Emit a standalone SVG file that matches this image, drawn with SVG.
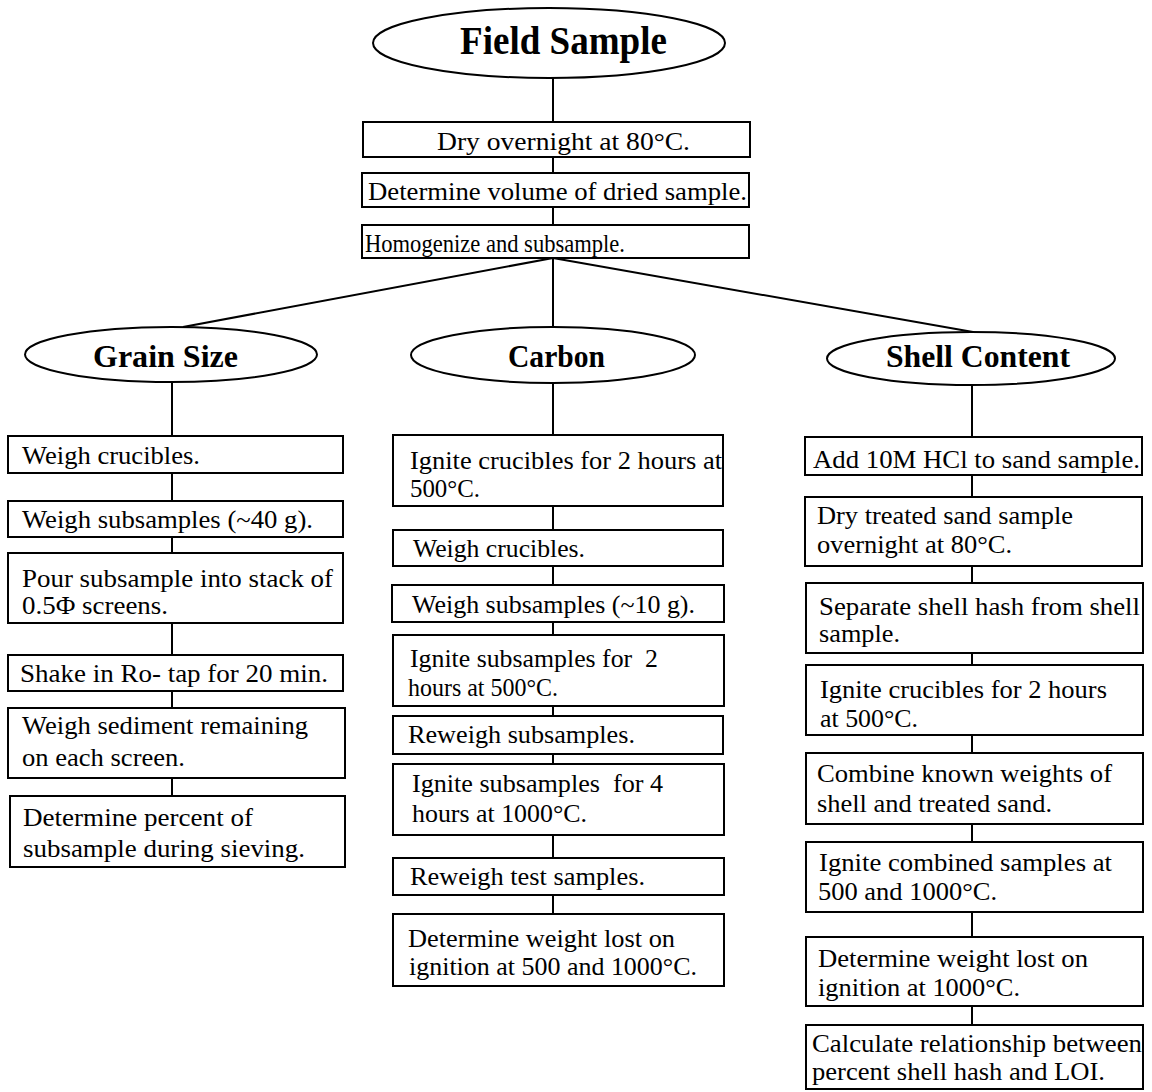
<svg xmlns="http://www.w3.org/2000/svg" width="1152" height="1092" viewBox="0 0 1152 1092">
<style>
.bg{fill:#fff}
.box{fill:#fff;stroke:#000;stroke-width:2}
.ell{fill:#fff;stroke:#000;stroke-width:2}
.c{stroke:#000;stroke-width:2;fill:none}
.t{font-family:"Liberation Serif","Times New Roman",serif;font-size:26px;fill:#000}
.h{font-family:"Liberation Serif","Times New Roman",serif;font-weight:bold;fill:#000}
</style>
<rect class="bg" x="0" y="0" width="1152" height="1092"/>
<g id="connectors">
<line class="c" x1="553" y1="78" x2="553" y2="122"/>
<line class="c" x1="553" y1="157" x2="553" y2="173"/>
<line class="c" x1="553" y1="207" x2="553" y2="225"/>
<line class="c" x1="553" y1="258" x2="183" y2="327"/>
<line class="c" x1="553" y1="258" x2="553" y2="327"/>
<line class="c" x1="553" y1="258" x2="973" y2="332"/>
<line class="c" x1="172" y1="382" x2="172" y2="436"/>
<line class="c" x1="172" y1="473" x2="172" y2="501"/>
<line class="c" x1="172" y1="537" x2="172" y2="553"/>
<line class="c" x1="172" y1="623" x2="172" y2="655"/>
<line class="c" x1="172" y1="691" x2="172" y2="708"/>
<line class="c" x1="172" y1="778" x2="172" y2="796"/>
<line class="c" x1="553" y1="383" x2="553" y2="435"/>
<line class="c" x1="553" y1="506" x2="553" y2="530"/>
<line class="c" x1="553" y1="566" x2="553" y2="585"/>
<line class="c" x1="553" y1="622" x2="553" y2="635"/>
<line class="c" x1="553" y1="706" x2="553" y2="716"/>
<line class="c" x1="553" y1="754" x2="553" y2="764"/>
<line class="c" x1="553" y1="835" x2="553" y2="858"/>
<line class="c" x1="553" y1="895" x2="553" y2="914"/>
<line class="c" x1="972" y1="385" x2="972" y2="437"/>
<line class="c" x1="972" y1="475" x2="972" y2="497"/>
<line class="c" x1="972" y1="566" x2="972" y2="583"/>
<line class="c" x1="972" y1="653" x2="972" y2="665"/>
<line class="c" x1="972" y1="735" x2="972" y2="753"/>
<line class="c" x1="972" y1="824" x2="972" y2="842"/>
<line class="c" x1="972" y1="912" x2="972" y2="937"/>
<line class="c" x1="972" y1="1006" x2="972" y2="1025"/>
</g>

<g id="field-sample"><ellipse class="ell" cx="549" cy="43" rx="176" ry="35"/><text class="h" x="460" y="54" font-size="39" textLength="207" lengthAdjust="spacingAndGlyphs">Field Sample</text></g>
<g id="dry"><rect class="box" x="363" y="122" width="387" height="35"/><text class="t" x="437" y="150" textLength="253" lengthAdjust="spacingAndGlyphs">Dry overnight at 80°C.</text></g>
<g id="volume"><rect class="box" x="362" y="173" width="387" height="34"/><text class="t" x="368" y="200" textLength="379" lengthAdjust="spacingAndGlyphs">Determine volume of dried sample.</text></g>
<g id="homogenize"><rect class="box" x="362" y="225" width="387" height="33"/><text class="t" x="365" y="252" textLength="260" lengthAdjust="spacingAndGlyphs">Homogenize and subsample.</text></g>

<g id="grain-size"><ellipse class="ell" cx="171" cy="354.5" rx="146" ry="27.5"/><text class="h" x="93" y="367" font-size="31" textLength="145" lengthAdjust="spacingAndGlyphs">Grain Size</text></g>
<g id="carbon"><ellipse class="ell" cx="553" cy="355" rx="142" ry="28"/><text class="h" x="508" y="367" font-size="31" textLength="97" lengthAdjust="spacingAndGlyphs">Carbon</text></g>
<g id="shell-content"><ellipse class="ell" cx="971" cy="358.5" rx="144" ry="26.5"/><text class="h" x="886" y="367" font-size="31" textLength="184" lengthAdjust="spacingAndGlyphs">Shell Content</text></g>

<g id="g1"><rect class="box" x="8" y="436" width="335" height="37"/><text class="t" x="22" y="464" textLength="178" lengthAdjust="spacingAndGlyphs">Weigh crucibles.</text></g>
<g id="g2"><rect class="box" x="8" y="501" width="335" height="36"/><text class="t" x="22" y="528" textLength="291" lengthAdjust="spacingAndGlyphs">Weigh subsamples (~40 g).</text></g>
<g id="g3"><rect class="box" x="8" y="553" width="335" height="70"/><text class="t" x="22" y="587" textLength="311" lengthAdjust="spacingAndGlyphs">Pour subsample into stack of</text><text class="t" x="22" y="614" textLength="146" lengthAdjust="spacingAndGlyphs">0.5Φ screens.</text></g>
<g id="g4"><rect class="box" x="8" y="655" width="335" height="36"/><text class="t" x="20" y="682" textLength="308" lengthAdjust="spacingAndGlyphs">Shake in Ro- tap for 20 min.</text></g>
<g id="g5"><rect class="box" x="8" y="708" width="337" height="70"/><text class="t" x="22" y="734" textLength="286" lengthAdjust="spacingAndGlyphs">Weigh sediment remaining</text><text class="t" x="22" y="766" textLength="163" lengthAdjust="spacingAndGlyphs">on each screen.</text></g>
<g id="g6"><rect class="box" x="10" y="796" width="335" height="71"/><text class="t" x="23" y="826" textLength="230" lengthAdjust="spacingAndGlyphs">Determine percent of</text><text class="t" x="23" y="857" textLength="282" lengthAdjust="spacingAndGlyphs">subsample during sieving.</text></g>

<g id="c1"><rect class="box" x="393" y="435" width="330" height="71"/><text class="t" x="410" y="469" textLength="312" lengthAdjust="spacingAndGlyphs">Ignite crucibles for 2 hours at</text><text class="t" x="410" y="497" textLength="70" lengthAdjust="spacingAndGlyphs">500°C.</text></g>
<g id="c2"><rect class="box" x="393" y="530" width="330" height="36"/><text class="t" x="413" y="557" textLength="172" lengthAdjust="spacingAndGlyphs">Weigh crucibles.</text></g>
<g id="c3"><rect class="box" x="392" y="585" width="332" height="37"/><text class="t" x="412" y="613" textLength="283" lengthAdjust="spacingAndGlyphs">Weigh subsamples (~10 g).</text></g>
<g id="c4"><rect class="box" x="393" y="635" width="331" height="71"/><text class="t" x="410" y="667" textLength="248" lengthAdjust="spacingAndGlyphs" xml:space="preserve">Ignite subsamples for  2</text><text class="t" x="408" y="696" textLength="150" lengthAdjust="spacingAndGlyphs">hours at 500°C.</text></g>
<g id="c5"><rect class="box" x="393" y="716" width="330" height="38"/><text class="t" x="408" y="743" textLength="227" lengthAdjust="spacingAndGlyphs">Reweigh subsamples.</text></g>
<g id="c6"><rect class="box" x="393" y="764" width="331" height="71"/><text class="t" x="412" y="792" textLength="251" lengthAdjust="spacingAndGlyphs" xml:space="preserve">Ignite subsamples  for 4</text><text class="t" x="412" y="822" textLength="175" lengthAdjust="spacingAndGlyphs">hours at 1000°C.</text></g>
<g id="c7"><rect class="box" x="393" y="858" width="331" height="37"/><text class="t" x="410" y="885" textLength="235" lengthAdjust="spacingAndGlyphs">Reweigh test samples.</text></g>
<g id="c8"><rect class="box" x="393" y="914" width="331" height="72"/><text class="t" x="408" y="947" textLength="267" lengthAdjust="spacingAndGlyphs">Determine weight lost on</text><text class="t" x="409" y="975" textLength="288" lengthAdjust="spacingAndGlyphs">ignition at 500 and 1000°C.</text></g>

<g id="s1"><rect class="box" x="805" y="437" width="337" height="38"/><text class="t" x="813" y="468" textLength="327" lengthAdjust="spacingAndGlyphs">Add 10M HCl to sand sample.</text></g>
<g id="s2"><rect class="box" x="805" y="497" width="337" height="69"/><text class="t" x="817" y="524" textLength="256" lengthAdjust="spacingAndGlyphs">Dry treated sand sample</text><text class="t" x="817" y="553" textLength="195" lengthAdjust="spacingAndGlyphs">overnight at 80°C.</text></g>
<g id="s3"><rect class="box" x="806" y="583" width="337" height="70"/><text class="t" x="819" y="615" textLength="321" lengthAdjust="spacingAndGlyphs">Separate shell hash from shell</text><text class="t" x="819" y="642" textLength="81" lengthAdjust="spacingAndGlyphs">sample.</text></g>
<g id="s4"><rect class="box" x="806" y="665" width="337" height="70"/><text class="t" x="820" y="698" textLength="287" lengthAdjust="spacingAndGlyphs">Ignite crucibles for 2 hours</text><text class="t" x="820" y="727" textLength="98" lengthAdjust="spacingAndGlyphs">at 500°C.</text></g>
<g id="s5"><rect class="box" x="806" y="753" width="337" height="71"/><text class="t" x="817" y="782" textLength="295" lengthAdjust="spacingAndGlyphs">Combine known weights of</text><text class="t" x="817" y="812" textLength="235" lengthAdjust="spacingAndGlyphs">shell and treated sand.</text></g>
<g id="s6"><rect class="box" x="806" y="842" width="337" height="70"/><text class="t" x="819" y="871" textLength="293" lengthAdjust="spacingAndGlyphs">Ignite combined samples at</text><text class="t" x="818" y="900" textLength="179" lengthAdjust="spacingAndGlyphs">500 and 1000°C.</text></g>
<g id="s7"><rect class="box" x="806" y="937" width="337" height="69"/><text class="t" x="818" y="967" textLength="270" lengthAdjust="spacingAndGlyphs">Determine weight lost on</text><text class="t" x="818" y="996" textLength="202" lengthAdjust="spacingAndGlyphs">ignition at 1000°C.</text></g>
<g id="s8"><rect class="box" x="806" y="1025" width="337" height="64"/><text class="t" x="812" y="1052" textLength="330" lengthAdjust="spacingAndGlyphs">Calculate relationship between</text><text class="t" x="812" y="1080" textLength="293" lengthAdjust="spacingAndGlyphs">percent shell hash and LOI.</text></g>
</svg>
